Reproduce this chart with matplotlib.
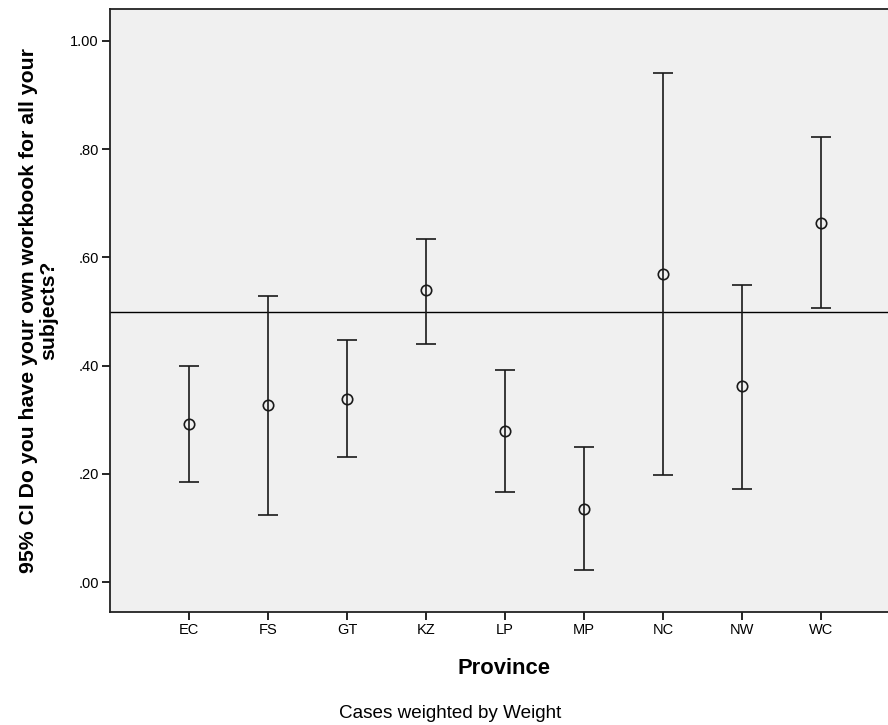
import numpy as np
import matplotlib
matplotlib.use("Agg")
import matplotlib.pyplot as plt

plt.rcParams['font.family'] = ['Liberation Sans', 'DejaVu Sans']

# Data
provinces = ['EC', 'FS', 'GT', 'KZ', 'LP', 'MP', 'NC', 'NW', 'WC']
means = [0.293, 0.327, 0.339, 0.539, 0.280, 0.136, 0.570, 0.362, 0.664]
upper = [0.400, 0.528, 0.448, 0.635, 0.393, 0.250, 0.941, 0.550, 0.823]
lower = [0.185, 0.124, 0.231, 0.441, 0.166, 0.023, 0.199, 0.172, 0.506]
ref_value = 0.5

x = np.arange(len(provinces))
means = np.array(means)
yerr = [means - np.array(lower), np.array(upper) - means]

fig = plt.figure(figsize=(8.88, 7.25), dpi=100)
ax = fig.add_axes([110 / 888, 1 - 612 / 725, 1 - 110 / 888, (612 - 9) / 725])
ax.set_facecolor('#f0f0f0')

# error bars with open circle at the mean
ax.errorbar(x, means, yerr=yerr, fmt='o', mfc='none', mec='#1a1a1a',
            ms=7.5, mew=1.2, ecolor='#1a1a1a', elinewidth=1.2,
            capsize=7.2, capthick=1.2, zorder=3)

# reference line
ax.axhline(ref_value, color='black', lw=1.0, zorder=2)

ax.set_xlim(-1, 8.85)
ax.set_ylim(-0.055, 1.059)
ax.set_yticks([0, 0.2, 0.4, 0.6, 0.8, 1.0])
ax.set_yticklabels(['.00', '.20', '.40', '.60', '.80', '1.00'])
ax.set_xticks(x)
ax.set_xticklabels(provinces)
ax.tick_params(axis='both', labelsize=10.5, length=6, width=1.2, color='black', pad=2)

for side in ['top', 'left', 'bottom']:
    ax.spines[side].set_color('#222222')
    ax.spines[side].set_linewidth(1.3)
ax.spines['right'].set_visible(False)

ax.set_xlabel('Province', fontsize=15.8, fontweight='bold')
ax.xaxis.set_label_coords((504 - 110) / (888 - 110), -0.077)
ax.set_ylabel('95% CI Do you have your own workbook for all your\nsubjects?',
              fontsize=15.3, fontweight='bold', labelpad=9, linespacing=1.02)

fig.text(450 / 888, 1 - 713 / 725, 'Cases weighted by Weight', ha='center', va='center',
         fontsize=13.6)

fig.savefig('out.png', dpi=100)
